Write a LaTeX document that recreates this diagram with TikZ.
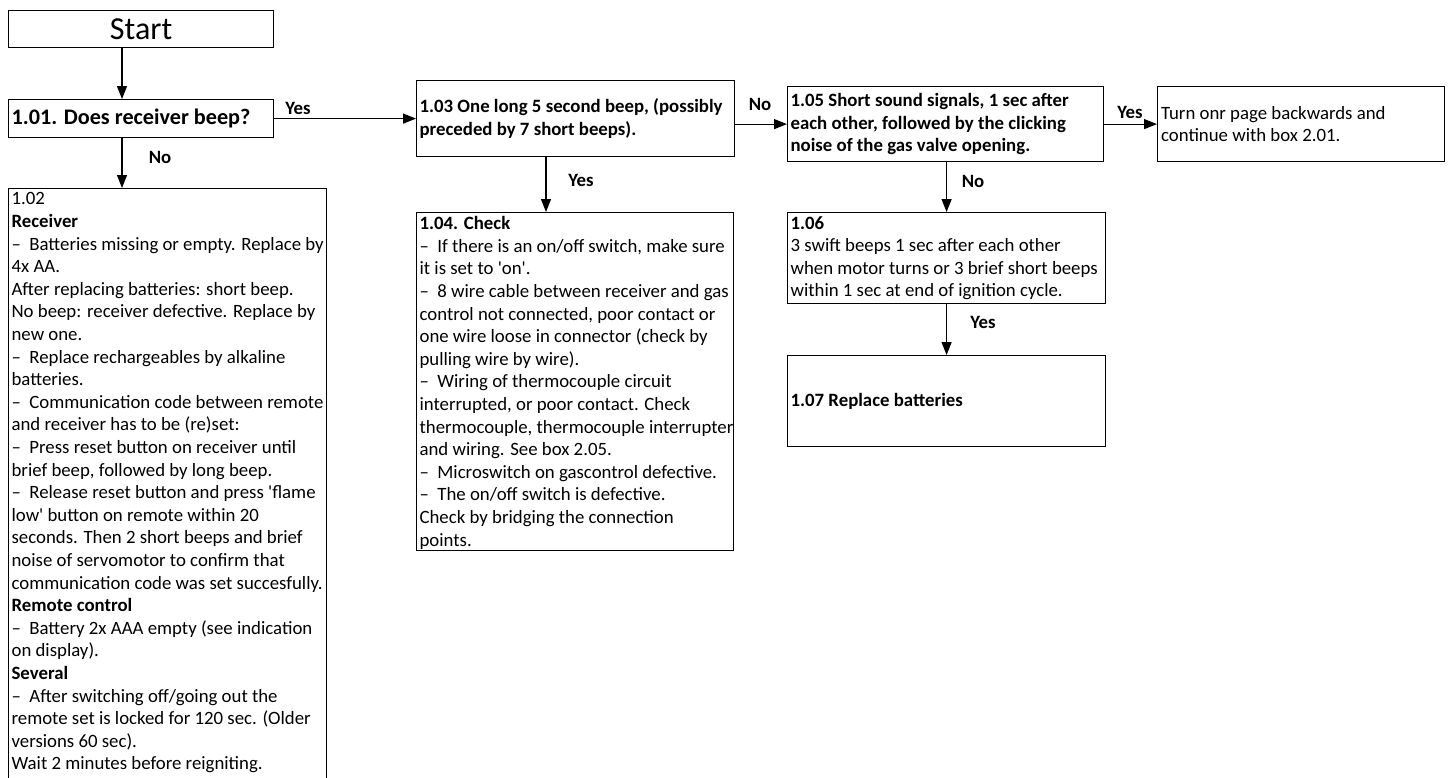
\documentclass[tikz,border=0pt]{standalone}
\usepackage{fontspec}
\setmainfont{Carlito}
\usetikzlibrary{arrows.meta}
\newcommand{\bodyfont}{\fontsize{18.8}{22.6}\selectfont}
\newcommand{\dsh}{–\hspace{0.45em}}
\newcommand{\sq}{\textquotesingle}
\newcommand{\topbox}[3]{\parbox[t][#2][t]{#1}{\bodyfont\raggedright #3}}
\tikzset{
  box/.style={draw, line width=1.2pt, inner xsep=3pt, inner ysep=3pt, anchor=north west, font=\bodyfont},
  cbox/.style={box, align=flush left},
  arr/.style={-{Triangle[length=13pt,width=10pt]}, line width=1.2pt},
  lbl/.style={font=\bodyfont\bfseries, inner sep=0pt}
}
\begin{document}
\begin{tikzpicture}[x=1pt,y=-1pt]
\useasboundingbox (0,0) rectangle (1448,777);
\node[box, minimum width=265pt, minimum height=37pt, font=\fontsize{32}{34}\selectfont, align=center] (start) at (8,10) {Start};
\node[cbox, minimum width=265pt, minimum height=38pt, text width=259pt, font=\fontsize{22.2}{26}\selectfont\bfseries] (n101) at (8,99) {1.01. Does receiver beep?};
\node[box, inner ysep=4pt] (n102) at (8,188) {\topbox{312pt}{600pt}{%
1.02\\
\textbf{Receiver}\\
\dsh Batteries missing or empty. Replace by\\
4x AA.\\
After replacing batteries: short beep.\\
No beep: receiver defective. Replace by\\
new one.\\
\dsh Replace rechargeables by alkaline\\
batteries.\\
\dsh Communication code between remote\\
and receiver has to be (re)set:\\
\dsh Press reset button on receiver until\\
brief beep, followed by long beep.\\
\dsh Release reset button and press \sq flame\\
low\sq{} button on remote within 20\\
seconds. Then 2 short beeps and brief\\
noise of servomotor to confirm that\\
communication code was set succesfully.\\
\textbf{Remote control}\\
\dsh Battery 2x AAA empty (see indication\\
on display).\\
\textbf{Several}\\
\dsh After switching off/going out the\\
remote set is locked for 120 sec. (Older\\
versions 60 sec).\\
Wait 2 minutes before reigniting.}};
\node[cbox, minimum width=318pt, minimum height=76pt, text width=312pt, font=\bodyfont\bfseries] (n103) at (416,80) {1.03 One long 5 second beep, (possibly\\ preceded by 7 short beeps).};
\node[box, inner ysep=4pt] (n104) at (416,212) {\topbox{311pt}{330pt}{%
\textbf{1.04. Check}\\
\dsh If there is an on/off switch, make sure\\
it is set to \sq on\sq.\\
\dsh 8 wire cable between receiver and gas\\
control not connected, poor contact or\\
one wire loose in connector (check by\\
pulling wire by wire).\\
\dsh Wiring of thermocouple circuit\\
interrupted, or poor contact. Check\\
\mbox{thermocouple, thermocouple interrupter}\\
and wiring. See box 2.05.\\
\dsh Microswitch on gascontrol defective.\\
\dsh The on/off switch is defective.\\
Check by bridging the connection\\
points.}};
\node[cbox, minimum width=316pt, minimum height=75pt, text width=310pt, font=\bodyfont\bfseries] (n105) at (787,86) {1.05 Short sound signals, 1 sec after\\ each other, followed by the clicking\\ noise of the gas valve opening.};
\node[cbox, minimum width=287pt, minimum height=75pt, text width=280pt, inner xsep=3.5pt] (n201) at (1157,86) {Turn onr page backwards and\\ continue with box 2.01.};
\node[cbox, minimum width=318pt, minimum height=91pt, text width=312pt] (n106) at (787,212) {\textbf{1.06}\\ 3 swift beeps 1 sec after each other\\ when motor turns or 3 brief short beeps\\ within 1 sec at end of ignition cycle.};
\node[cbox, minimum width=318pt, minimum height=91pt, text width=312pt, font=\bodyfont\bfseries] (n107) at (787,355) {1.07 Replace batteries};
\coordinate (cx) at (122,0);
\coordinate (cy) at (546,0);
\draw[arr] (start.south -| cx) -- (n101.north -| cx);
\draw[arr] (n101.south -| cx) -- (n102.north -| cx);
\draw[arr] (n101.east) -- (n103.west);
\draw[arr] (n103.south -| cy) -- (n104.north -| cy);
\draw[arr] (n105.west -| n103.east) -- (n105.west);
\draw[arr] (n105.east) -- (n201.west);
\draw[arr] (n105.south -| n106.north) -- (n106.north);
\draw[arr] (n106.south) -- (n107.north);
\node[lbl] (y1) at (298,108) {Yes};
\node[lbl] (no1) at (160,157) {No};
\node[lbl] (y2) at (581,180) {Yes};
\node[lbl] (no2) at (760,104) {No};
\node[lbl] (y3) at (1130,112) {Yes};
\node[lbl] (no3) at (973,181) {No};
\node[lbl] (y4) at (983,322) {Yes};
\end{tikzpicture}
\end{document}
